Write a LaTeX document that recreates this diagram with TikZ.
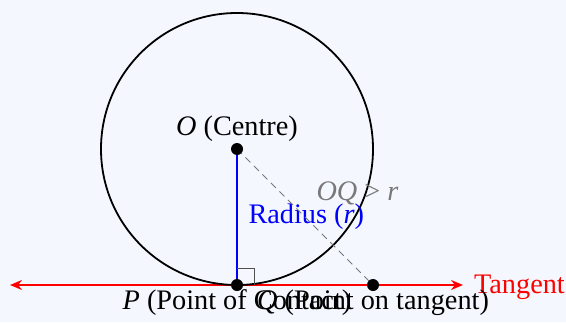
\documentclass[tikz,border=0pt]{standalone}
\usepackage{fontspec}
\setmainfont{Liberation Serif}
\usetikzlibrary{arrows.meta}
\definecolor{fondpale}{RGB}{244,248,254}
\definecolor{grisdash}{RGB}{120,120,120}
\definecolor{grisangle}{RGB}{80,80,80}

\begin{document}
\begin{tikzpicture}[x=1bp, y=1bp, font=\fontsize{28.4}{32}\selectfont,
    point/.style={circle, fill=black, inner sep=0pt, minimum size=12bp}]
    % fond
    \fill[fondpale] (0,0) rectangle (566,322);
    \useasboundingbox (0,0) rectangle (566,322);
    % points
    \coordinate (O) at (237,173);
    \coordinate (P) at (237,37);
    \coordinate (Q) at (373,37);
    \coordinate (tgA) at (10,37);
    \coordinate (tgB) at (463,37);
    % tangente
    \draw[red, line width=1.8bp, {Stealth[length=12bp,width=10bp]}-{Stealth[length=12bp,width=10bp]}]
        (tgA) -- (tgB);
    \node[anchor=base east, text=red, inner sep=0pt] (lblT) at (565,29) {Tangent};
    % cercle
    \draw[line width=1.8bp] (O) circle (136bp);
    % rayon
    \draw[blue, line width=1.8bp] (O) -- (P);
    \node[anchor=base west, text=blue] (lblR) at (245,99) {Radius (\textit{r})};
    % OQ
    \draw[grisdash, dash pattern=on 7bp off 5bp, line width=0.8bp] (O) -- (Q);
    \node[anchor=base west, text=grisdash] (lblOQ) at (313,122) {\textit{OQ} > \textit{r}};
    % angle droit
    \draw[grisangle, line width=0.9bp] ([yshift=17bp]P) -- ++(17,0) -- ++(0,-17);
    % points noirs
    \node[point] (ptO) at (O) {};
    \node[point] (ptP) at (P) {};
    \node[point] (ptQ) at (Q) {};
    % etiquettes
    \node[anchor=base] (lblO) at ([yshift=14bp]O) {\textit{O} (Centre)};
    \node[anchor=base] (lblP) at ([yshift=-24bp]P) {\textit{P} (Point of Contact)};
    \node[anchor=base] (lblQ) at ([yshift=-24bp]Q) {\textit{Q} (Point on tangent)};
\end{tikzpicture}
\end{document}
